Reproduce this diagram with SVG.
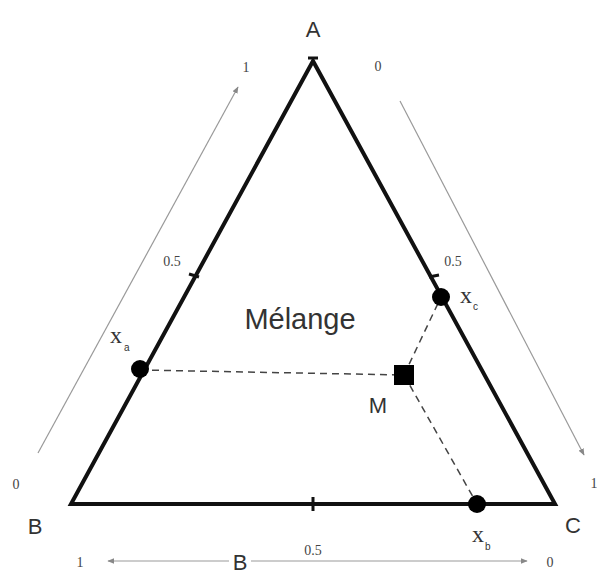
<svg xmlns="http://www.w3.org/2000/svg" width="597" height="576" viewBox="0 0 597 576">
<defs>
<marker id="ah" viewBox="0 0 10 10" refX="9" refY="5" markerWidth="7" markerHeight="7" orient="auto-start-reverse" markerUnits="userSpaceOnUse">
<path d="M0,1 L10,5 L0,9 z" fill="#888"/>
</marker>
<style>
.lbl{font-family:"Liberation Sans",Arial,sans-serif;fill:#333;}
.xl{font-family:"Liberation Serif","Times New Roman",serif;fill:#333;font-size:24px;}
.sub{font-family:"Liberation Sans",Arial,sans-serif;fill:#333;font-size:10px;}
.num{font-family:"Liberation Serif","Times New Roman",serif;fill:#444;font-size:14px;}
.scale{stroke:#999;stroke-width:1.2;fill:none;}
.dash{stroke:#444;stroke-width:1.5;stroke-dasharray:7,5;fill:none;}
.tri{stroke:#111;stroke-width:4;fill:none;stroke-linejoin:miter;}
.tick{stroke:#111;stroke-width:3;}
.dot{fill:#000;}
</style>
</defs>
<rect width="597" height="576" fill="#fff"/>
<g id="triangle">
<polygon class="tri" points="313,61 71,504 555,504"/>
<line class="tick" x1="308" y1="58" x2="318" y2="58"/>
<line class="tick" x1="189" y1="274" x2="199" y2="277"/>
<line class="tick" x1="429" y1="277" x2="439" y2="275"/>
<line class="tick" x1="313" y1="497" x2="313" y2="511"/>
</g>
<g id="connectors">
<line class="dash" x1="140" y1="370" x2="404" y2="375"/>
<line class="dash" x1="404" y1="375" x2="441" y2="297"/>
<line class="dash" x1="404" y1="375" x2="477" y2="504"/>
<line class="scale" x1="38" y1="453" x2="238" y2="87" marker-end="url(#ah)"/>
<line class="scale" x1="400" y1="101" x2="584" y2="455" marker-end="url(#ah)"/>
<line class="scale" x1="108" y1="561" x2="527" y2="561" marker-start="url(#ah)" marker-end="url(#ah)"/>
</g>
<g id="xa"><circle class="dot" cx="140" cy="369" r="9"/></g>
<g id="xc"><circle class="dot" cx="441" cy="297" r="9"/></g>
<g id="xb"><circle class="dot" cx="477" cy="504" r="9"/></g>
<g id="M"><rect class="dot" x="394" y="365" width="20" height="20"/></g>
<g id="labels">
<text class="lbl" x="313" y="37" font-size="22" text-anchor="middle">A</text>
<text class="lbl" x="35" y="534" font-size="22" text-anchor="middle">B</text>
<text class="lbl" x="573" y="533" font-size="22" text-anchor="middle">C</text>
<text class="lbl" x="378" y="413" font-size="22" text-anchor="middle">M</text>
<text class="lbl" x="300" y="329" font-size="29" text-anchor="middle" fill="#444">Mélange</text>
<text class="xl" x="110" y="343">x</text>
<text class="sub" x="124" y="351">a</text>
<text class="xl" x="460" y="303">x</text>
<text class="sub" x="473" y="310">c</text>
<text class="xl" x="472" y="542">x</text>
<text class="sub" x="485" y="550">b</text>
<rect x="229" y="549" width="22" height="24" fill="#fff"/>
<text class="lbl" x="240" y="570" font-size="22" text-anchor="middle">B</text>
<text class="num" x="246" y="72" text-anchor="middle">1</text>
<text class="num" x="172" y="266" text-anchor="middle">0.5</text>
<text class="num" x="16" y="489" text-anchor="middle">0</text>
<text class="num" x="378" y="71" text-anchor="middle">0</text>
<text class="num" x="453" y="266" text-anchor="middle">0.5</text>
<text class="num" x="594" y="488" text-anchor="middle">1</text>
<text class="num" x="80" y="567" text-anchor="middle">1</text>
<text class="num" x="313" y="555" text-anchor="middle">0.5</text>
<text class="num" x="550" y="567" text-anchor="middle">0</text>
</g>
</svg>
